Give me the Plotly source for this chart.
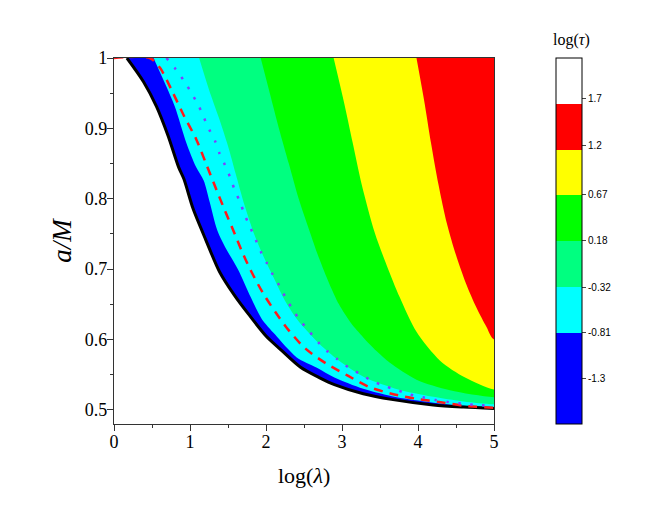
import plotly.graph_objects as go

# boundaries: log(lambda) vs a/M
edge_x = [0.17, 0.39, 0.56, 0.71, 0.85, 0.92, 1.04, 1.21, 1.39, 1.59, 1.77, 2.0, 2.2, 2.45, 2.7, 2.9, 3.28, 3.65, 4.2, 4.6, 5.0]
edge_y = [1.0, 0.966, 0.931, 0.89, 0.845, 0.828, 0.786, 0.741, 0.696, 0.662, 0.636, 0.605, 0.585, 0.561, 0.546, 0.536, 0.523, 0.515, 0.507, 0.504, 0.502]

cyan_x = [0.52, 0.67, 0.80, 0.95, 1.08, 1.18, 1.26, 1.36, 1.48, 1.63, 1.80, 1.94, 2.12, 2.40, 2.67, 2.9, 3.28, 3.72, 4.16, 4.6, 5.0]
cyan_y = [1.0, 0.964, 0.931, 0.88, 0.845, 0.826, 0.795, 0.755, 0.728, 0.700, 0.660, 0.630, 0.607, 0.575, 0.560, 0.546, 0.530, 0.518, 0.511, 0.506, 0.504]

spring_x = [1.12, 1.25, 1.38, 1.50, 1.60, 1.72, 1.85, 1.98, 2.10, 2.25, 2.40, 2.56, 2.75, 2.97, 3.30, 3.74, 4.18, 4.6, 5.0]
spring_y = [1.0, 0.955, 0.915, 0.875, 0.836, 0.79, 0.748, 0.715, 0.688, 0.655, 0.630, 0.610, 0.589, 0.569, 0.546, 0.529, 0.519, 0.512, 0.508]

green_x = [1.93, 2.05, 2.17, 2.30, 2.43, 2.57, 2.70, 2.83, 2.96, 3.12, 3.28, 3.45, 3.63, 3.98, 4.42, 5.0]
green_y = [1.0, 0.95, 0.90, 0.85, 0.80, 0.755, 0.715, 0.68, 0.65, 0.623, 0.603, 0.584, 0.567, 0.543, 0.528, 0.518]

yellow_x = [2.89, 3.02, 3.14, 3.26, 3.43, 3.59, 3.76, 3.98, 4.29, 4.62, 5.0]
yellow_y = [1.0, 0.94, 0.88, 0.82, 0.752, 0.705, 0.66, 0.611, 0.57, 0.546, 0.529]

red_x = [3.98, 4.08, 4.17, 4.27, 4.38, 4.50, 4.63, 4.77, 4.90, 5.0]
red_y = [1.0, 0.94, 0.88, 0.82, 0.765, 0.72, 0.68, 0.645, 0.618, 0.600]

dash_x = [0, 0.47, 0.605, 0.76, 0.92, 1.08, 1.2, 1.31, 1.46, 1.57, 1.68, 1.80, 1.96, 2.13, 2.30, 2.52, 2.79, 3.07, 3.35, 3.65, 3.97, 4.3, 4.6, 5.0]
dash_y = [1, 1, 0.986, 0.954, 0.918, 0.885, 0.853, 0.823, 0.783, 0.755, 0.726, 0.698, 0.666, 0.638, 0.613, 0.587, 0.566, 0.549, 0.533, 0.523, 0.516, 0.511, 0.506, 0.503]

dot_x = [0.69, 0.82, 0.93, 1.02, 1.11, 1.18, 1.25, 1.33, 1.39, 1.46, 1.53, 1.59, 1.66, 1.72, 1.79, 1.86, 1.93, 2.01, 2.09, 2.18,
         2.26, 2.35, 2.45, 2.56, 2.68, 2.80, 2.94, 3.09, 3.24, 3.40, 3.56, 3.73, 3.89, 4.06, 4.23, 4.41, 4.58, 4.75, 4.93, 5.0]
dot_y = [1.0, 0.983, 0.966, 0.95, 0.933, 0.916, 0.899, 0.882, 0.864, 0.848, 0.83, 0.812, 0.795, 0.777, 0.76, 0.743, 0.725, 0.709, 0.692, 0.676,
         0.659, 0.643, 0.627, 0.613, 0.597, 0.584, 0.572, 0.56, 0.551, 0.541, 0.534, 0.528, 0.522, 0.518, 0.514, 0.511, 0.509, 0.507, 0.506, 0.505]

# colour levels of log(tau)
levels = [-1.3, -0.81, -0.32, 0.18, 0.67, 1.2, 1.7]
level_text = ["-1.3", "-0.81", "-0.32", "0.18", "0.67", "1.2", "1.7"]
band_colors = ["#0000ff", "#0000ff", "#00ffff", "#00ff80", "#00ff00", "#ffff00", "#ff0000", "#ffffff"]
zmin, zmax = -1.79, 2.14

fig = go.Figure()

regions = [(edge_x, edge_y, "#0000ff"), (cyan_x, cyan_y, "#00ffff"), (spring_x, spring_y, "#00ff80"),
           (green_x, green_y, "#00ff00"), (yellow_x, yellow_y, "#ffff00"), (red_x, red_y, "#ff0000")]
for bx, by, col in regions:
    # close each band outside the axes so the clip hides the closing edges
    fig.add_trace(go.Scatter(x=bx + [5.4, 5.4, bx[0]], y=by + [by[-1], 1.05, 1.05], mode="lines", fill="toself",
                             fillcolor=col, line=dict(width=0, color=col, shape="spline", smoothing=0.8),
                             hoverinfo="skip", showlegend=False))

fig.add_trace(go.Scatter(x=edge_x, y=edge_y, mode="lines",
                         line=dict(color="black", width=3, shape="spline", smoothing=0.8), showlegend=False))
fig.add_trace(go.Scatter(x=dash_x, y=dash_y, mode="lines",
                         line=dict(color="#ff1a1a", width=2.5, dash="9px,7px", shape="spline", smoothing=0.8),
                         showlegend=False))
fig.add_trace(go.Scatter(x=dot_x, y=dot_y, mode="lines",
                         line=dict(color="#7f3fff", width=2.5, dash="2.5px,9.5px", shape="spline", smoothing=0.8),
                         showlegend=False))

# stepped colour scale for the bar
n = len(band_colors)
cscale = []
for i, c in enumerate(band_colors):
    cscale.append([i / n, c])
    cscale.append([(i + 1) / n, c])

fig.add_trace(go.Scatter(x=[-1], y=[0], mode="markers", showlegend=False, hoverinfo="skip",
                         marker=dict(size=0, opacity=0, color=[0], colorscale=cscale, cmin=zmin, cmax=zmax,
                                     showscale=True,
                                     colorbar=dict(x=1.163, xanchor="left", y=1, yanchor="top", len=1,
                                                   lenmode="fraction", thickness=26, xpad=0, ypad=0,
                                                   outlinecolor="black", outlinewidth=1,
                                                   tickvals=levels, ticktext=level_text,
                                                   ticks="outside", ticklen=4, tickcolor="#444",
                                                   tickfont=dict(family="Liberation Sans", size=10, color="black")))))

serif = "Liberation Serif"
fig.update_xaxes(range=[0, 5], dtick=1, ticks="outside", ticklen=6, tickcolor="#333", ticklabelstandoff=-5,
                 minor=dict(dtick=0.5, ticks="outside", ticklen=3, tickcolor="#333"),
                 showline=True, linecolor="#333", linewidth=1.2, mirror=True, showgrid=False, zeroline=False,
                 tickfont=dict(family=serif, size=18, color="black"))
fig.update_yaxes(range=[0.48, 1.0], dtick=0.1, tick0=0, ticks="outside", ticklen=6, tickcolor="#333",
                 ticklabelstandoff=-4,
                 minor=dict(dtick=0.05, ticks="outside", ticklen=3, tickcolor="#333"),
                 showline=True, linecolor="#333", linewidth=1.2, mirror=True, showgrid=False, zeroline=False,
                 tickfont=dict(family=serif, size=18, color="black"))

fig.add_annotation(text="<i>a/M</i>", xref="paper", yref="paper", x=-0.137, y=0.503, showarrow=False,
                   xanchor="center", yanchor="middle",
                   textangle=-90, font=dict(family=serif, size=27, color="black"))
fig.add_annotation(text="log(<i>λ</i>)", xref="paper", yref="paper", x=0.5, y=-0.142, showarrow=False,
                   xanchor="center", yanchor="middle",
                   font=dict(family=serif, size=22, color="black"))
fig.add_annotation(text="log(<i>τ</i>)", xref="paper", yref="paper", x=1.205, y=1.049, showarrow=False,
                   xanchor="center", yanchor="middle",
                   font=dict(family=serif, size=16, color="black"))

# the page body adds an 8px offset, so margins are shifted to keep the plot box in place
fig.update_layout(width=664, height=525, margin=dict(l=106, r=178, t=50, b=109),
                  paper_bgcolor="white", plot_bgcolor="white")

fig.write_html("out.html")
